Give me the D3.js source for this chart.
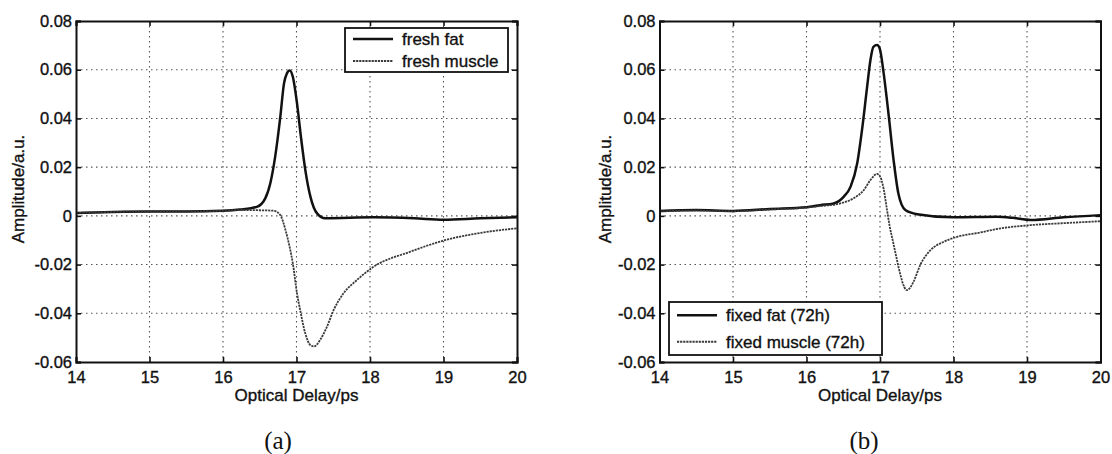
<!DOCTYPE html>
<html>
<head>
<meta charset="utf-8">
<script src="https://cdn.jsdelivr.net/npm/d3@7"></script>
<style>
  html, body { margin: 0; padding: 0; background: #fff; }
  svg { display: block; }
  .tick-label, .axis-title, .legend-text {
    font-family: "Liberation Sans", Arial, sans-serif; fill: #111;
    stroke: #111; stroke-width: 0.35px;
  }
  .panel-tag { font-family: "Liberation Serif", "DejaVu Serif", serif; fill: #111; }
</style>
</head>
<body>
<svg id="chart" width="1112" height="454"></svg>
<script>
// Axis ticks shared by both panels
const xTicks = [14, 15, 16, 17, 18, 19, 20];
const yTicks = [-0.06, -0.04, -0.02, 0, 0.02, 0.04, 0.06, 0.08];
const yTickLabels = ["-0.06", "-0.04", "-0.02", "0", "0.02", "0.04", "0.06", "0.08"];

// Panel (a): fresh tissue, [delay ps, amplitude a.u.]
const freshFat = [
  [14.0, 0.0012], [14.5, 0.0016], [15.0, 0.0018], [15.5, 0.0018], [16.0, 0.0021],
  [16.23, 0.0026], [16.46, 0.0037], [16.575, 0.0072], [16.643, 0.0133], [16.71, 0.0243],
  [16.78, 0.0407], [16.83, 0.0544], [16.87, 0.0585], [16.906, 0.0597], [16.95, 0.0571],
  [17.007, 0.0462], [17.06, 0.0325], [17.12, 0.0188], [17.19, 0.0078], [17.28, 0.0010],
  [17.39, -0.0010], [18.05, -0.0006], [18.6, -0.0010], [19.0, -0.0016], [19.5, -0.0010],
  [20.0, -0.0006]
];
const freshMuscle = [
  [14.0, 0.0012], [14.5, 0.0016], [15.0, 0.0018], [15.5, 0.0018], [16.0, 0.0021],
  [16.23, 0.0024], [16.5, 0.0023], [16.69, 0.0021], [16.78, 0.0003], [16.85, -0.0058],
  [16.906, -0.0127], [16.95, -0.0195], [17.007, -0.0318], [17.05, -0.0387], [17.12, -0.0483],
  [17.19, -0.0531], [17.24, -0.0536], [17.32, -0.0510], [17.415, -0.0455], [17.505, -0.0387],
  [17.64, -0.0318], [17.82, -0.0264], [18.05, -0.0209], [18.55, -0.0147], [19.03, -0.0099],
  [19.46, -0.0072], [20.0, -0.0051]
];

// Panel (b): tissue fixed for 72 h
const fixedFat = [
  [14.0, 0.0020], [14.5, 0.0024], [15.0, 0.0020], [15.5, 0.0028], [16.0, 0.0035],
  [16.185, 0.0044], [16.37, 0.0051], [16.505, 0.0078], [16.6, 0.0120], [16.69, 0.0216],
  [16.755, 0.0352], [16.82, 0.0517], [16.87, 0.0640], [16.91, 0.0694], [16.96, 0.0701],
  [16.995, 0.0688], [17.05, 0.0585], [17.12, 0.0407], [17.185, 0.0229], [17.25, 0.0092],
  [17.345, 0.0024], [17.505, 0.0007], [18.0, -0.0006], [18.59, -0.0004], [18.8, -0.0008],
  [19.05, -0.0017], [19.5, -0.0006], [20.0, 0.0003]
];
const fixedMuscle = [
  [14.0, 0.0018], [14.5, 0.0022], [15.0, 0.0019], [15.5, 0.0026], [16.0, 0.0034],
  [16.185, 0.0040], [16.46, 0.0051], [16.64, 0.0072], [16.78, 0.0106], [16.87, 0.0147],
  [16.96, 0.0172], [17.0, 0.0163], [17.05, 0.0110], [17.09, 0.0035], [17.13, -0.0040],
  [17.18, -0.0110], [17.23, -0.0180], [17.28, -0.0245], [17.33, -0.0292], [17.365, -0.0305],
  [17.41, -0.0295], [17.46, -0.0268], [17.55, -0.0200], [17.69, -0.0140], [17.87, -0.0106],
  [18.05, -0.0086], [18.37, -0.0068], [18.59, -0.0054], [19.05, -0.0038], [19.5, -0.0030],
  [20.0, -0.0022]
];

const panels = [
  {
    left: 76, right: 517, top: 21, bottom: 362, tag: "(a)", tagX: 278, yTitleX: 18,
    series: [
      { name: "fresh fat", values: freshFat, kind: "fat" },
      { name: "fresh muscle", values: freshMuscle, kind: "muscle" }
    ],
    legend: { x: 345, y: 28, w: 163, h: 44 }
  },
  {
    left: 659.5, right: 1100.5, top: 21, bottom: 362, tag: "(b)", tagX: 864, yTitleX: 605,
    series: [
      { name: "fixed fat (72h)", values: fixedFat, kind: "fat" },
      { name: "fixed muscle (72h)", values: fixedMuscle, kind: "muscle" }
    ],
    legend: { x: 669, y: 302, w: 213, h: 53 }
  }
];

const styles = {
  fat: { stroke: "#111", width: 2.5, dash: null },
  muscle: { stroke: "#3a3a3a", width: 1.8, dash: "2.2,0.9" }
};

const svg = d3.select("#chart");

panels.forEach(p => {
  const x = d3.scaleLinear().domain([14, 20]).range([p.left, p.right]);
  const y = d3.scaleLinear().domain([-0.06, 0.08]).range([p.bottom, p.top]);
  const g = svg.append("g");

  // dotted grid
  const grid = g.append("g").attr("stroke", "#555").attr("stroke-width", 1.1)
    .attr("stroke-dasharray", "1.5,3.5");
  grid.selectAll("line.vx").data(xTicks.slice(1, -1)).join("line")
    .attr("x1", d => x(d)).attr("x2", d => x(d))
    .attr("y1", p.top).attr("y2", p.bottom);
  grid.selectAll("line.hy").data(yTicks.slice(1, -1)).join("line")
    .attr("x1", p.left).attr("x2", p.right)
    .attr("y1", d => y(d)).attr("y2", d => y(d));

  // curves
  const line = d3.line().x(d => x(d[0])).y(d => y(d[1])).curve(d3.curveMonotoneX);
  p.series.forEach(s => {
    const st = styles[s.kind];
    g.append("path").datum(s.values)
      .attr("fill", "none").attr("stroke", st.stroke)
      .attr("stroke-width", st.width)
      .attr("stroke-linejoin", "round")
      .attr("stroke-dasharray", st.dash)
      .attr("d", line);
  });

  // axes with inward ticks on all four sides
  const tickLen = 5;
  const axB = d3.axisBottom(x).tickValues(xTicks).tickSize(-tickLen).tickPadding(9).tickFormat(d3.format("d"));
  const axT = d3.axisTop(x).tickValues(xTicks).tickSize(-tickLen).tickFormat("");
  const axL = d3.axisLeft(y).tickValues(yTicks).tickSize(-tickLen).tickPadding(4)
    .tickFormat((d, i) => yTickLabels[i]);
  const axR = d3.axisRight(y).tickValues(yTicks).tickSize(-tickLen).tickFormat("");

  const fmt = sel => {
    sel.selectAll(".domain").attr("stroke", "#111").attr("stroke-width", 2);
    sel.selectAll(".tick line").attr("stroke", "#111").attr("stroke-width", 1.6);
    sel.selectAll(".tick text").attr("class", "tick-label").attr("font-size", 16.5).attr("fill", "#111");
  };
  g.append("g").attr("transform", `translate(0,${p.bottom})`).call(axB).call(fmt);
  g.append("g").attr("transform", `translate(0,${p.top})`).call(axT).call(fmt);
  g.append("g").attr("transform", `translate(${p.left},0)`).call(axL).call(fmt);
  g.append("g").attr("transform", `translate(${p.right},0)`).call(axR).call(fmt);

  // axis titles
  g.append("text").attr("class", "axis-title").attr("font-size", 17)
    .attr("text-anchor", "middle")
    .attr("x", (p.left + p.right) / 2).attr("y", 395).attr("dy", "0.35em")
    .text("Optical Delay/ps");
  g.append("text").attr("class", "axis-title").attr("font-size", 17)
    .attr("text-anchor", "middle").attr("dy", "0.35em")
    .attr("transform", `translate(${p.yTitleX},189) rotate(-90)`)
    .text("Amplitude/a.u.");

  // legend
  const L = p.legend;
  const lg = g.append("g");
  lg.append("rect").attr("x", L.x).attr("y", L.y).attr("width", L.w).attr("height", L.h)
    .attr("fill", "#fff").attr("stroke", "#111").attr("stroke-width", 1.8);
  const rowH = L.h / 2;
  p.series.forEach((s, i) => {
    const cy = L.y + rowH * (i + 0.5);
    const st = styles[s.kind];
    lg.append("line").attr("x1", L.x + 8).attr("x2", L.x + 48)
      .attr("y1", cy).attr("y2", cy)
      .attr("stroke", st.stroke).attr("stroke-width", st.width)
      .attr("stroke-dasharray", st.dash);
    lg.append("text").attr("class", "legend-text").attr("font-size", 17)
      .attr("x", L.x + 57).attr("y", cy).attr("dy", "0.35em")
      .text(s.name);
  });

  // panel tag
  g.append("text").attr("class", "panel-tag").attr("font-size", 25)
    .attr("text-anchor", "middle")
    .attr("x", p.tagX).attr("y", 440).attr("dy", "0.35em")
    .text(p.tag);
});
</script>
</body>
</html>
